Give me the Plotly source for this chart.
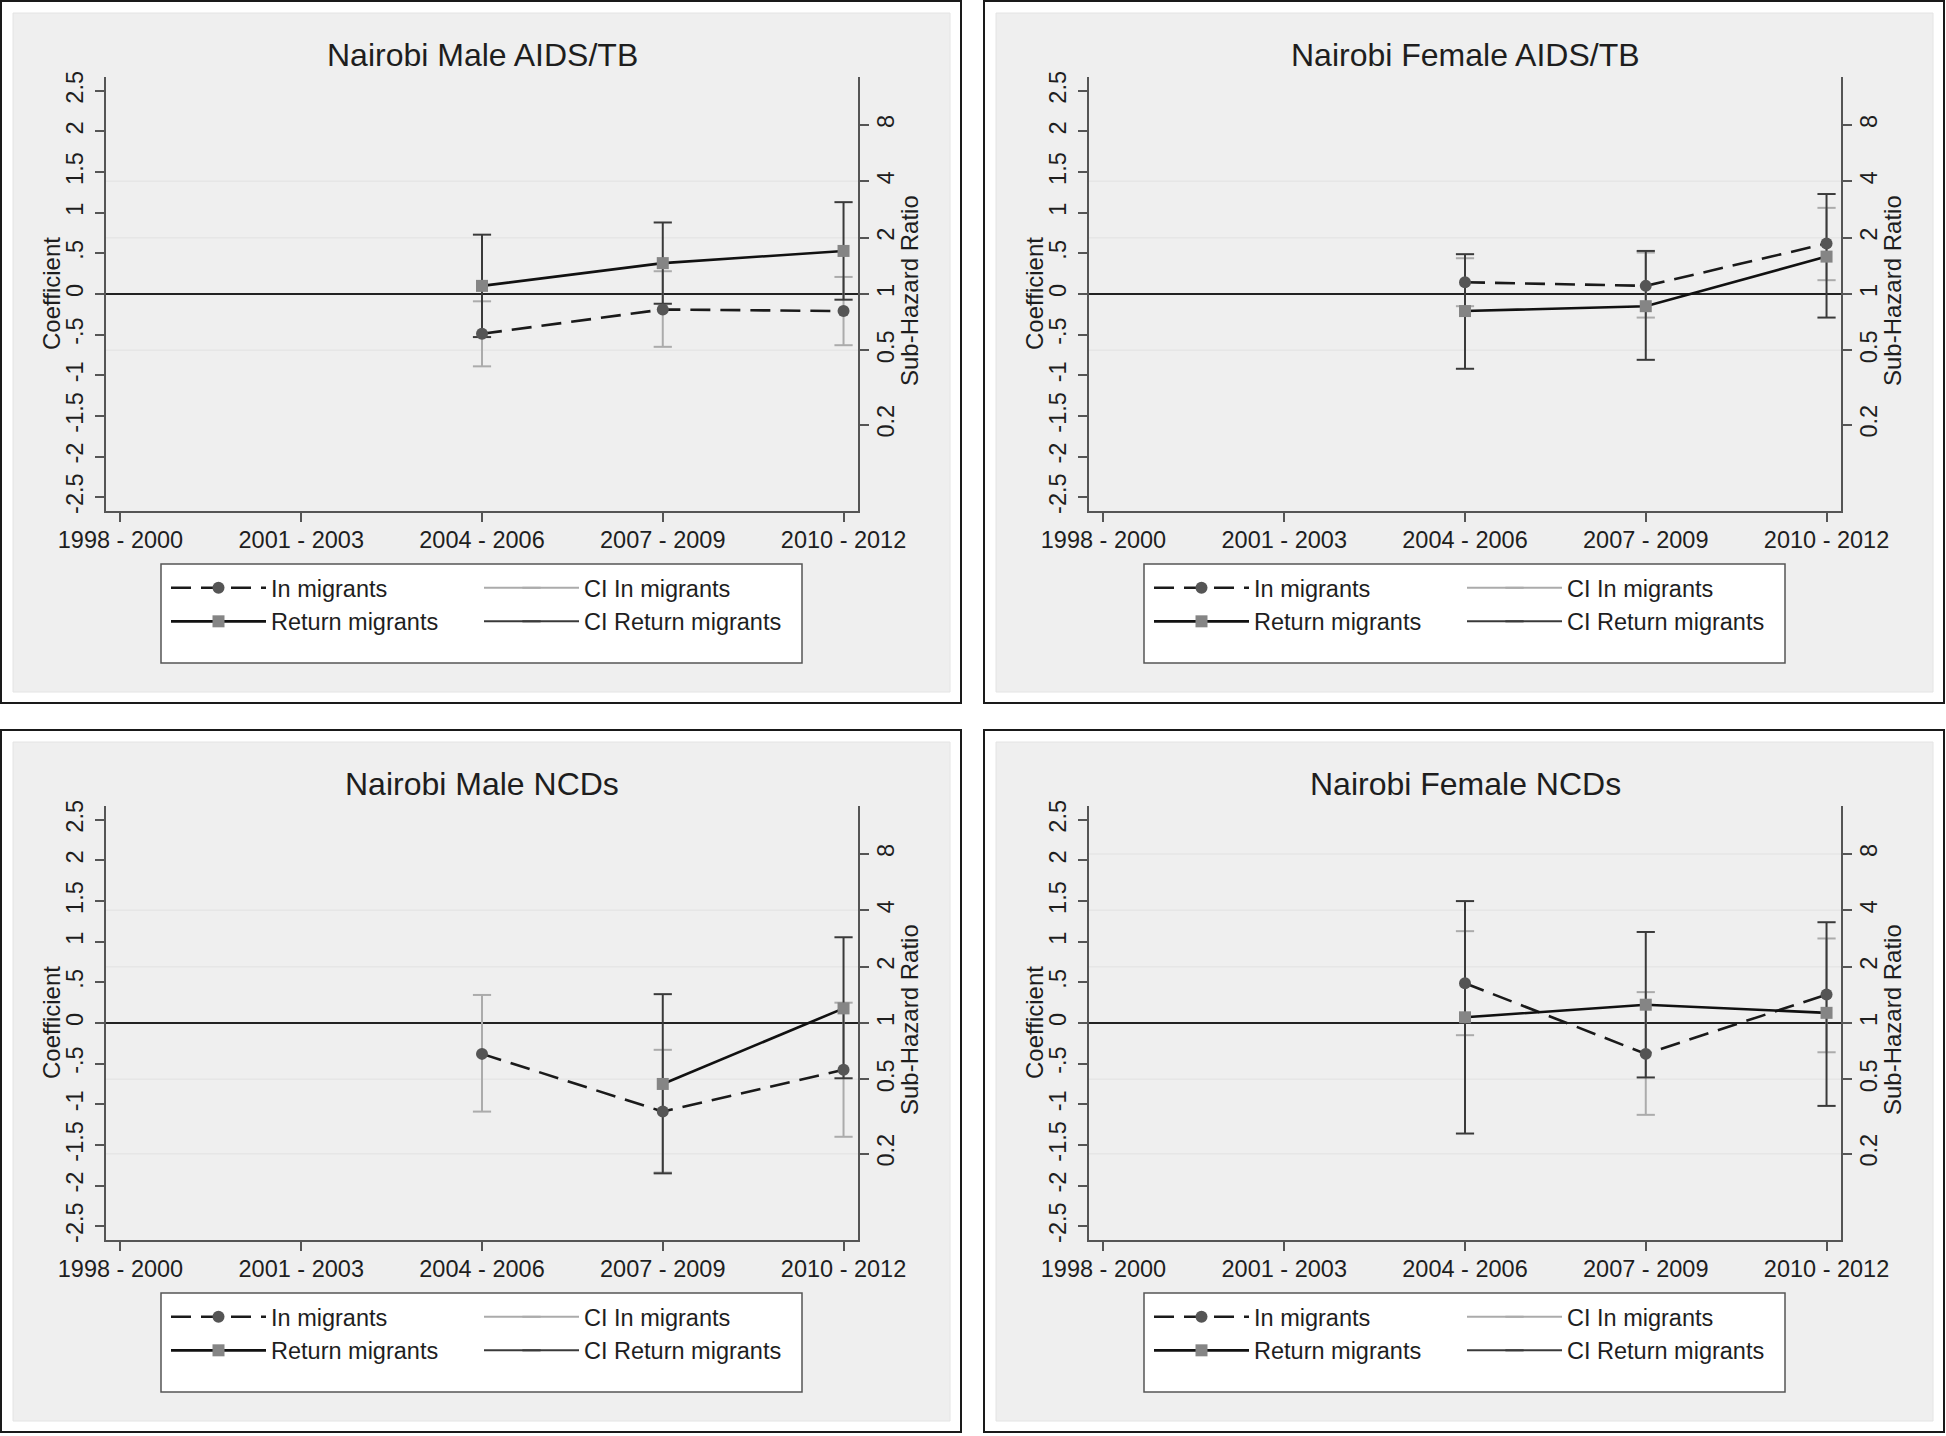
import numpy as np
import plotly.graph_objects as go

# ---- data (coefficients = log sub-hazard ratios, with CI bounds) ----
periods = ["1998 - 2000", "2001 - 2003", "2004 - 2006", "2007 - 2009", "2010 - 2012"]
est_periods = ["2004 - 2006", "2007 - 2009", "2010 - 2012"]

titles = ["Nairobi Male AIDS/TB", "Nairobi Female AIDS/TB",
          "Nairobi Male NCDs", "Nairobi Female NCDs"]

# Nairobi Male AIDS/TB
m_aids_in = [-0.49, -0.19, -0.21]
m_aids_in_lo = [-0.89, -0.65, -0.63]
m_aids_in_hi = [-0.09, 0.28, 0.21]
m_aids_ret = [0.10, 0.38, 0.53]
m_aids_ret_lo = [-0.53, -0.12, -0.07]
m_aids_ret_hi = [0.73, 0.88, 1.13]

# Nairobi Female AIDS/TB
f_aids_in = [0.145, 0.10, 0.62]
f_aids_in_lo = [-0.15, -0.29, 0.17]
f_aids_in_hi = [0.44, 0.51, 1.06]
f_aids_ret = [-0.21, -0.15, 0.46]
f_aids_ret_lo = [-0.92, -0.81, -0.29]
f_aids_ret_hi = [0.49, 0.53, 1.23]

# Nairobi Male NCDs
m_ncd_in = [-0.38, -1.09, -0.575]
m_ncd_in_lo = [-1.09, -1.84, -1.40]
m_ncd_in_hi = [0.345, -0.33, 0.25]
m_ncd_ret = [None, -0.75, 0.18]
m_ncd_ret_lo = [None, -1.85, -0.68]
m_ncd_ret_hi = [None, 0.355, 1.055]

# Nairobi Female NCDs
f_ncd_in = [0.49, -0.38, 0.35]
f_ncd_in_lo = [-0.15, -1.13, -0.36]
f_ncd_in_hi = [1.13, 0.38, 1.04]
f_ncd_ret = [0.07, 0.225, 0.125]
f_ncd_ret_lo = [-1.36, -0.67, -1.02]
f_ncd_ret_hi = [1.50, 1.12, 1.24]

left_ticks = [-2.5, -2, -1.5, -1, -0.5, 0, 0.5, 1, 1.5, 2, 2.5]
left_ticktext = ["-2.5", "-2", "-1.5", "-1", "-.5", "0", ".5", "1", "1.5", "2", "2.5"]
ratio_ticks = [0.2, 0.5, 1, 2, 4, 8]
ratio_ticktext = ["0.2", "0.5", "1", "2", "4", "8"]
grid_ratios = [[4, 2, 0.5], [4, 2, 0.5], [4, 2, 0.5, 0.2], [8, 4, 2, 0.5, 0.2]]

panels = [
    (m_aids_in, m_aids_in_lo, m_aids_in_hi, m_aids_ret, m_aids_ret_lo, m_aids_ret_hi),
    (f_aids_in, f_aids_in_lo, f_aids_in_hi, f_aids_ret, f_aids_ret_lo, f_aids_ret_hi),
    (m_ncd_in, m_ncd_in_lo, m_ncd_in_hi, m_ncd_ret, m_ncd_ret_lo, m_ncd_ret_hi),
    (f_ncd_in, f_ncd_in_lo, f_ncd_in_hi, f_ncd_ret, f_ncd_ret_lo, f_ncd_ret_hi),
]

# ---- layout geometry ----
W, H = 1946, 1436
origins = [(1, 1), (984, 1), (1, 730), (984, 730)]
PW, PH = 960, 702
R = 2.67  # coefficient range (symmetric)
FONT = "Liberation Sans, Arial, sans-serif"
TXT = "#1e1e1e"


def seg(xs, lo, hi):
    sx, sy = [], []
    for x, a, b in zip(xs, lo, hi):
        if a is None:
            continue
        sx += [x, x, None]
        sy += [a, b, None]
    return sx, sy


fig = go.Figure()
shapes = []
annotations = []

for k, (ox, oy) in enumerate(origins):
    xin, lo_in, hi_in, xret, lo_ret, hi_ret = panels[k]
    xid = "x" if k == 0 else f"x{k+1}"
    yl = "y" if k == 0 else f"y{2*k+1}"
    yr = f"y{2*k+2}"
    leg_a = "legend" if k == 0 else f"legend{2*k+1}"   # estimates column
    leg_b = f"legend{2*k+2}"                           # CI column

    # CI In migrants
    sx, sy = seg(est_periods, lo_in, hi_in)
    fig.add_trace(go.Scatter(
        x=sx, y=sy, mode="lines+markers", name="CI In migrants",
        line=dict(color="#ababab", width=2),
        marker=dict(symbol="line-ew", size=13, line=dict(color="#ababab", width=2)),
        xaxis=xid, yaxis=yl, legend=leg_b, legendgroup=f"ci{k}", hoverinfo="skip"))
    # CI Return migrants
    sx, sy = seg(est_periods, lo_ret, hi_ret)
    fig.add_trace(go.Scatter(
        x=sx, y=sy, mode="lines+markers", name="CI Return migrants",
        line=dict(color="#3a3a3a", width=2),
        marker=dict(symbol="line-ew", size=13, line=dict(color="#3a3a3a", width=2)),
        xaxis=xid, yaxis=yl, legend=leg_b, legendgroup=f"ci{k}", hoverinfo="skip"))
    # In migrants
    fig.add_trace(go.Scatter(
        x=est_periods, y=xin, mode="lines+markers", name="In migrants",
        line=dict(color="#1a1a1a", width=2.6, dash="20px,10px"),
        marker=dict(symbol="circle", size=12, color="#555555"),
        xaxis=xid, yaxis=yl, legend=leg_a, legendgroup=f"est{k}"))
    # Return migrants
    fig.add_trace(go.Scatter(
        x=est_periods, y=xret, mode="lines+markers", name="Return migrants",
        line=dict(color="#111111", width=2.6),
        marker=dict(symbol="square", size=12, color="#858585"),
        xaxis=xid, yaxis=yl, legend=leg_a, legendgroup=f"est{k}"))
    # same estimates as sub-hazard ratios on the right axis (invisible, keeps axis drawn)
    fig.add_trace(go.Scatter(
        x=est_periods, y=np.exp(xin), mode="markers", marker=dict(opacity=0),
        xaxis=xid, yaxis=yr, showlegend=False, hoverinfo="skip"))

    xd = [(ox + 105) / W, (ox + 857) / W]
    yd = [1 - (oy + 510) / H, 1 - (oy + 76) / H]
    axis_common = dict(showline=True, linecolor="#555555", linewidth=2,
                       ticks="outside", ticklen=9, tickwidth=2, tickcolor="#555555",
                       tickfont=dict(family=FONT, size=23.5, color=TXT),
                       zeroline=False, showgrid=False, automargin=False)
    xkey = "xaxis" if k == 0 else f"xaxis{k+1}"
    ylkey = "yaxis" if k == 0 else f"yaxis{2*k+1}"
    yrkey = f"yaxis{2*k+2}"
    fig.layout[xkey] = dict(axis_common, domain=xd, anchor=yl, type="category",
                            categoryorder="array", categoryarray=periods,
                            range=[-0.08, 4.08], ticklabelstandoff=-2)
    fig.layout[ylkey] = dict(axis_common, domain=yd, anchor=xid, range=[-R, R],
                             tickvals=left_ticks, ticktext=left_ticktext, tickangle=-90,
                             ticklabelstandoff=3)
    fig.layout[yrkey] = dict(axis_common, domain=yd, anchor=xid, overlaying=yl,
                             side="right", type="log",
                             range=[-R / np.log(10), R / np.log(10)],
                             tickvals=ratio_ticks, ticktext=ratio_ticktext, tickangle=-90,
                             ticklabelstandoff=-3)

    # panel frame
    shapes.append(dict(type="rect", xref="paper", yref="paper", layer="below",
                       x0=ox / W, x1=(ox + PW) / W, y0=1 - (oy + PH) / H, y1=1 - oy / H,
                       fillcolor="white", line=dict(color="#1a1a1a", width=2)))
    shapes.append(dict(type="rect", xref="paper", yref="paper", layer="below",
                       x0=(ox + 12) / W, x1=(ox + 949) / W,
                       y0=1 - (oy + 691) / H, y1=1 - (oy + 12) / H,
                       fillcolor="#efefef", line=dict(color="#e4e4e4", width=1)))
    # legend box
    shapes.append(dict(type="rect", xref="paper", yref="paper", layer="below",
                       x0=(ox + 160) / W, x1=(ox + 801) / W,
                       y0=1 - (oy + 662) / H, y1=1 - (oy + 563) / H,
                       fillcolor="white", line=dict(color="#555555", width=1.5)))
    # gridlines at sub-hazard ratio ticks
    for r in grid_ratios[k]:
        shapes.append(dict(type="line", xref=f"{xid} domain", yref=yl, layer="below",
                           x0=0, x1=1, y0=float(np.log(r)), y1=float(np.log(r)),
                           line=dict(color="#e6e6e6", width=1.5)))
    # reference line at 0
    shapes.append(dict(type="line", xref=f"{xid} domain", yref=yl, layer="below",
                       x0=0, x1=1, y0=0, y1=0, line=dict(color="#222222", width=2)))

    annotations.append(dict(text=titles[k], xref="paper", yref="paper",
                            x=(ox + 481) / W, y=1 - (oy + 54) / H,
                            xanchor="center", yanchor="middle", showarrow=False,
                            font=dict(family=FONT, size=32, color=TXT)))
    # axis titles
    annotations.append(dict(text="Coefficient", xref="paper", yref="paper",
                            x=(ox + 50) / W, y=1 - (oy + 293) / H, textangle=-90,
                            xanchor="center", yanchor="middle", showarrow=False,
                            font=dict(family=FONT, size=24, color=TXT)))
    annotations.append(dict(text="Sub-Hazard Ratio", xref="paper", yref="paper",
                            x=(ox + 908) / W, y=1 - (oy + 290) / H, textangle=-90,
                            xanchor="center", yanchor="middle", showarrow=False,
                            font=dict(family=FONT, size=24, color=TXT)))

    leg_style = dict(xanchor="left", yanchor="top", orientation="v",
                     itemwidth=95, bgcolor="rgba(0,0,0,0)", borderwidth=0,
                     font=dict(family=FONT, size=23.5, color=TXT))
    fig.layout[leg_a] = dict(leg_style, x=(ox + 165) / W, y=1 - (oy + 565) / H,
                             traceorder="normal")
    fig.layout[leg_b] = dict(leg_style, x=(ox + 478) / W, y=1 - (oy + 565) / H,
                             traceorder="normal")

fig.update_layout(width=W, height=H,
                  margin=dict(l=0, r=0, t=0, b=0, autoexpand=False),
                  paper_bgcolor="white", plot_bgcolor="white",
                  shapes=shapes, annotations=annotations, showlegend=True)

fig.write_html("out.html", config={"displayModeBar": False},
               post_script="document.body.style.margin = '0';")
